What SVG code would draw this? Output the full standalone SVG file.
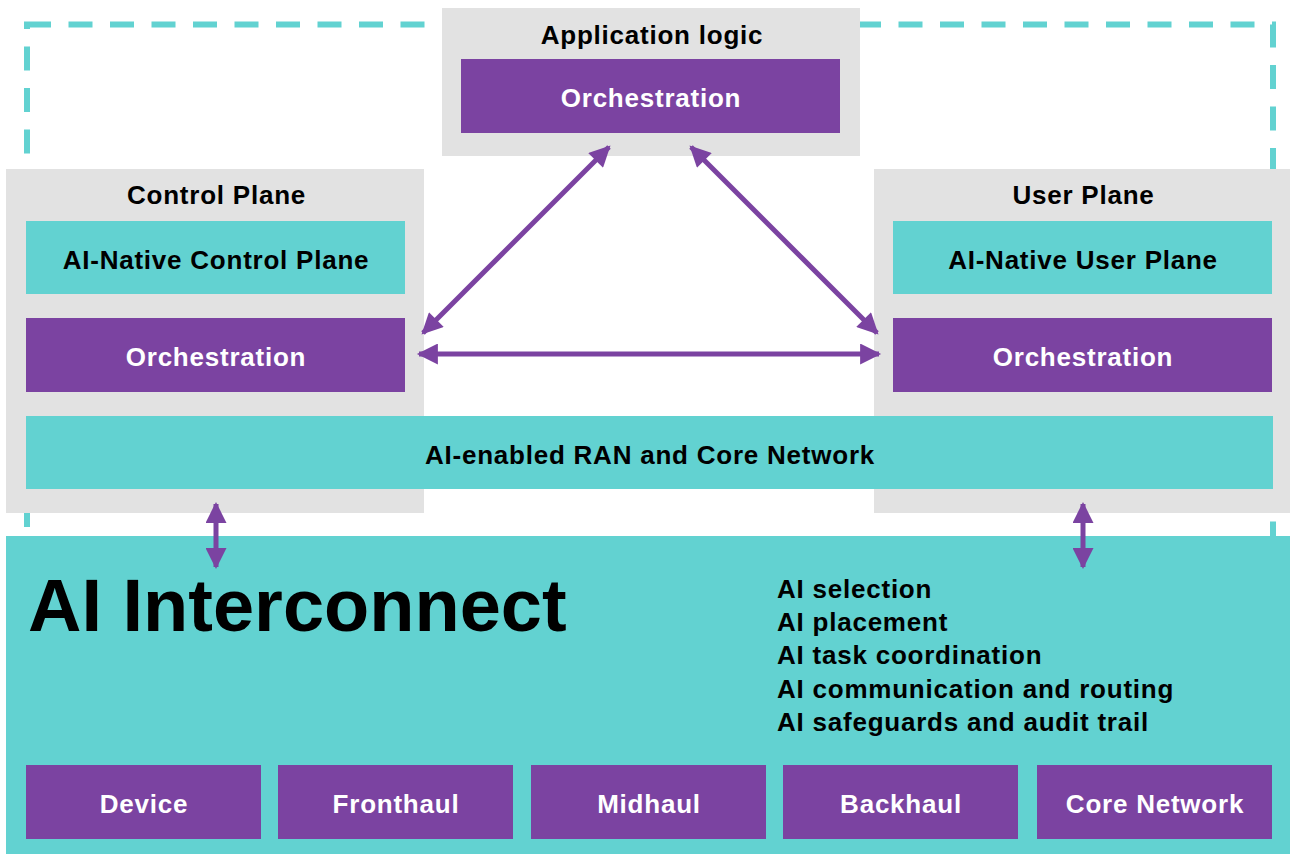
<svg xmlns="http://www.w3.org/2000/svg" width="1290" height="854" viewBox="0 0 1290 854">
<defs>
<marker id="ah" viewBox="0 0 10 10" refX="9" refY="5" markerWidth="4.4" markerHeight="4.2" markerUnits="strokeWidth" orient="auto-start-reverse">
<path d="M0,0 L10,5 L0,10 Z" fill="#7B43A1"/>
</marker>
<style>
.gray{fill:#E2E2E2}
.teal{fill:#62D2D1}
.purple{fill:#7B43A1}
text{font-family:"Liberation Sans",Arial,sans-serif;font-weight:bold;text-anchor:middle;font-size:26px;letter-spacing:0.77px}
.hd{fill:#000}
.wt{fill:#fff}
.bk{fill:#000}
.list{fill:#000;text-anchor:start}
.conn{stroke:#7B43A1;stroke-width:5;fill:none;marker-start:url(#ah);marker-end:url(#ah)}
</style>
</defs>
<rect x="27" y="24.5" width="1246" height="520" fill="none" stroke="#62D2D1" stroke-width="6" stroke-dasharray="24 17.5"/>
<g id="app-logic">
<rect class="gray" x="442" y="8" width="418" height="148"/>
<text class="hd" x="652" y="44">Application logic</text>
<rect class="purple" x="461" y="59" width="379" height="74"/>
<text class="wt" x="651" y="107">Orchestration</text>
</g>
<g id="control-plane">
<rect class="gray" x="6" y="169" width="418" height="344"/>
<text class="hd" x="216.5" y="204">Control Plane</text>
<rect class="teal" x="26" y="221" width="379" height="73"/>
<text class="bk" x="216" y="269">AI-Native Control Plane</text>
<rect class="purple" x="26" y="318" width="379" height="74"/>
<text class="wt" x="216" y="366">Orchestration</text>
</g>
<g id="user-plane">
<rect class="gray" x="874" y="169" width="416" height="344"/>
<text class="hd" x="1083.5" y="204">User Plane</text>
<rect class="teal" x="893" y="221" width="379" height="73"/>
<text class="bk" x="1083" y="269">AI-Native User Plane</text>
<rect class="purple" x="893" y="318" width="379" height="74"/>
<text class="wt" x="1083" y="366">Orchestration</text>
</g>
<g id="ran-core">
<rect class="teal" x="26" y="416" width="1247" height="73"/>
<text class="bk" x="650" y="464">AI-enabled RAN and Core Network</text>
</g>
<g id="ai-interconnect">
<rect class="teal" x="6" y="536" width="1284" height="318"/>
<text x="28" y="631" style="font-size:74px;text-anchor:start;fill:#000;letter-spacing:0">AI Interconnect</text>
<text class="list" x="777" y="598">AI selection</text>
<text class="list" x="777" y="631">AI placement</text>
<text class="list" x="777" y="664">AI task coordination</text>
<text class="list" x="777" y="698">AI communication and routing</text>
<text class="list" x="777" y="731">AI safeguards and audit trail</text>
</g>
<g id="device"><rect class="purple" x="26" y="765" width="235" height="74"/><text class="wt" x="144" y="813">Device</text></g>
<g id="fronthaul"><rect class="purple" x="278" y="765" width="235" height="74"/><text class="wt" x="396" y="813">Fronthaul</text></g>
<g id="midhaul"><rect class="purple" x="531" y="765" width="235" height="74"/><text class="wt" x="649" y="813">Midhaul</text></g>
<g id="backhaul"><rect class="purple" x="783" y="765" width="235" height="74"/><text class="wt" x="901" y="813">Backhaul</text></g>
<g id="core-network"><rect class="purple" x="1037" y="765" width="235" height="74"/><text class="wt" x="1155" y="813">Core Network</text></g>
<g id="connectors">
<line class="conn" x1="423" y1="333" x2="609" y2="147"/>
<line class="conn" x1="691" y1="147" x2="877" y2="333"/>
<line class="conn" x1="419" y1="354" x2="879" y2="354"/>
<line class="conn" x1="216" y1="504" x2="216" y2="567"/>
<line class="conn" x1="1083" y1="504" x2="1083" y2="567"/>
</g>
</svg>
